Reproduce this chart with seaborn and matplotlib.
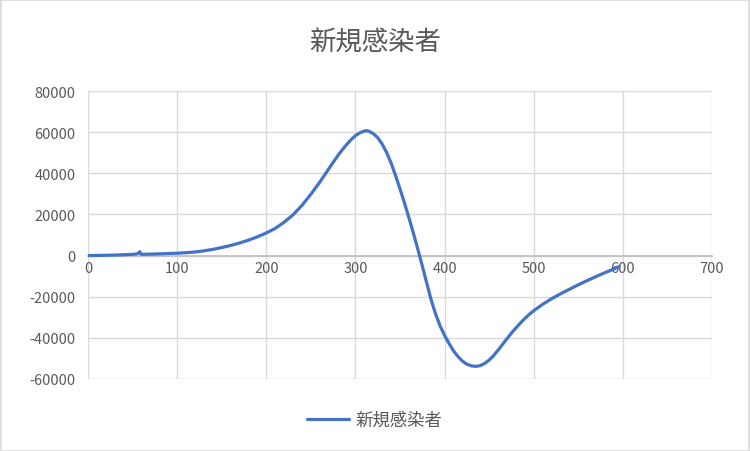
import matplotlib
matplotlib.use("Agg")
import matplotlib.pyplot as plt
import seaborn as sns
import pandas as pd
from matplotlib.patches import Rectangle

# Data
days = [0, 10, 20, 30, 40, 50, 55, 57, 58, 59, 60, 70, 80, 90, 100, 110, 120,
        130, 140, 150, 160, 170, 180, 190, 200, 210, 220, 230, 240, 250, 260,
        265, 270, 275, 280, 285, 290, 295, 300, 305, 310, 312, 315, 320, 325,
        330, 335, 340, 345, 350, 355, 360, 365, 370, 375, 380, 385, 390, 395,
        400, 405, 410, 415, 420, 425, 430, 435, 440, 445, 450, 455, 460, 465,
        470, 475, 480, 485, 490, 495, 500, 510, 520, 530, 540, 550, 560, 570,
        580, 590, 596]
cases = [0, 50, 150, 250, 400, 600, 800, 1300, 1900, 1100, 600, 700, 850, 1000,
         1150, 1400, 1750, 2300, 3000, 3900, 4900, 6100, 7500, 9100, 11000,
         13200, 16200, 19800, 24400, 29800, 35700, 38900, 42100, 45300, 48400,
         51300, 53900, 56300, 58300, 59700, 60500, 60700, 60500, 59300, 57300,
         54200, 50100, 45000, 38900, 32400, 25600, 18400, 10900, 3100, -5000,
         -13400, -21600, -28500, -34200, -38800, -42700, -46300, -49100,
         -51300, -52800, -53600, -53850, -53500, -52450, -50800, -48650,
         -46000, -43200, -40400, -37700, -35200, -32800, -30600, -28600,
         -26800, -23700, -21000, -18600, -16400, -14200, -12150, -10200,
         -8300, -6500, -5300]
series_name = "新規感染者"
title = "新規感染者"
x_ticks = [0, 100, 200, 300, 400, 500, 600, 700]
y_ticks = [-60000, -40000, -20000, 0, 20000, 40000, 60000, 80000]

df = pd.DataFrame({"day": days, "value": cases, "series": series_name})

sns.set_theme(style="white")
plt.rcParams["font.family"] = ["Noto Sans CJK JP", "DejaVu Sans"]

fig = plt.figure(figsize=(7.5, 4.52), dpi=100)
ax = fig.add_axes([88 / 750, 1 - 380 / 452, (712 - 88) / 750, (380 - 92) / 452])

sns.lineplot(data=df, x="day", y="value", hue="series", palette=["#4472C4"],
             linewidth=2.3, ax=ax, legend=False, sort=False,
             solid_joinstyle="round", solid_capstyle="round")

ax.set_xlim(0, 700)
ax.set_ylim(-60000, 80000)
ax.set_xticks(x_ticks)
ax.set_yticks(y_ticks)
ax.set_xticklabels([str(t) for t in x_ticks])
ax.set_yticklabels([str(t) for t in y_ticks])
ax.set_xlabel("")
ax.set_ylabel("")

grid_c = "#D9D9D9"
ax.grid(True, color=grid_c, linewidth=1.0)
ax.set_axisbelow(True)
for s in ["top", "right", "left"]:
    ax.spines[s].set_visible(False)
ax.spines["bottom"].set_position(("data", 0))
ax.spines["bottom"].set_color("#BFBFBF")
ax.spines["bottom"].set_linewidth(1.2)
ax.spines["bottom"].set_zorder(1.5)

ax.tick_params(axis="both", length=0, labelsize=10.5, labelcolor="#595959")
ax.tick_params(axis="x", pad=4)
ax.tick_params(axis="y", pad=9)

fig.text(0.5, 1 - 42 / 452, title, ha="center", va="center",
         fontsize=19, color="#595959")

line_handle = plt.Line2D([], [], color="#4472C4", linewidth=2.3)
fig.legend([line_handle], [series_name], loc="center",
           bbox_to_anchor=(0.5, 1 - 421 / 452), frameon=False,
           fontsize=12.5, labelcolor="#595959", handlelength=2.4,
           handletextpad=0.4)

fig.patches.append(Rectangle((0.001, 0.001), 0.997, 0.997, transform=fig.transFigure,
                             fill=False, edgecolor="#D9D9D9", linewidth=1.2))

fig.savefig("out.png", dpi=100, facecolor="white")
